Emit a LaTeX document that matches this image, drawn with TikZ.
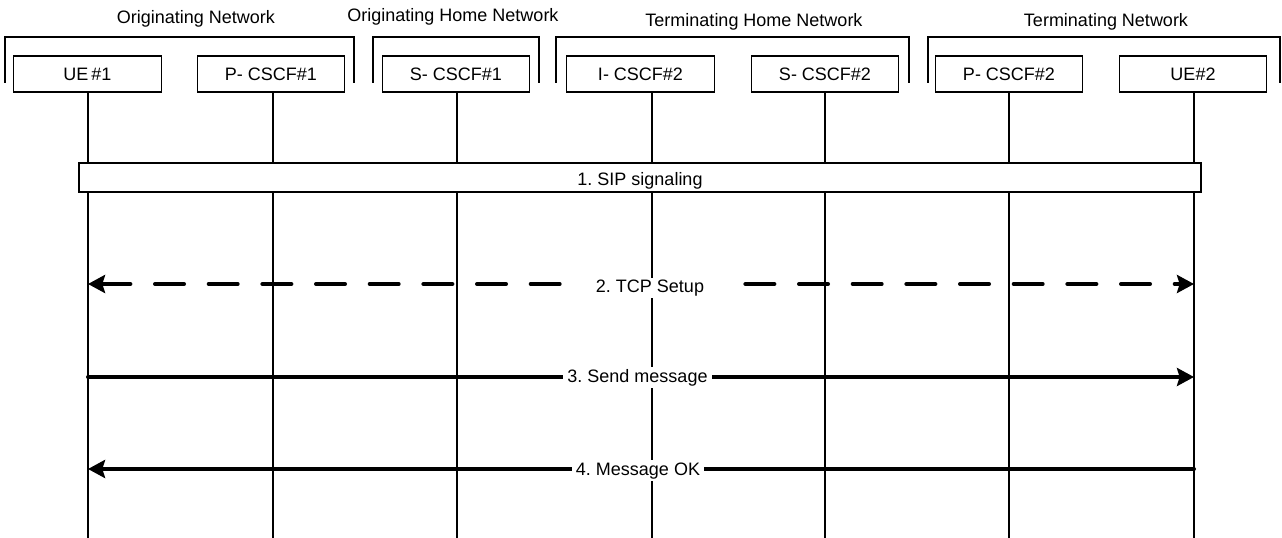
\documentclass[tikz,border=0pt]{standalone}
\usepackage{fontspec}
\setmainfont{Liberation Sans}
\usetikzlibrary{arrows.meta}
\frenchspacing
\begin{document}
\begin{tikzpicture}[x=0.75pt,y=-0.75pt,
  font=\fontsize{13.5}{16}\selectfont,
  entity/.style={draw, line width=1pt, fill=white, minimum width=110.6pt,
    minimum height=27pt, inner sep=0pt},
  netframe/.style={line width=1pt},
  lifeline/.style={line width=1pt},
  hdr/.style={anchor=base, inner sep=0pt},
  msgtip/.tip={Stealth[length=12.75pt, width=13.5pt, inset=2pt]},
  msg/.style={line width=3pt, line cap=round, -msgtip},
  tcp/.style={line width=3pt, line cap=round,
    dash pattern=on 21.75pt off 18.5pt, msgtip-msgtip},
  lbl/.style={anchor=base, fill=white, inner xsep=3pt, inner ysep=1.5pt},
  sipbox/.style={draw, line width=1pt, fill=white, minimum width=841.5pt,
    minimum height=21.75pt, inner sep=0pt}
]
% canvas
\useasboundingbox (0,0) rectangle (1282,538);

% network domains
\draw[netframe] (5,83) -- (5,37) -- (354,37) -- (354,83);
\draw[netframe] (373,83) -- (373,37) -- (539,37) -- (539,83);
\draw[netframe] (556,83) -- (556,37) -- (909,37) -- (909,83);
\draw[netframe] (928,83) -- (928,37) -- (1280,37) -- (1280,83);
\node[hdr] (hon) at (196,24) {Originating Network};
\node[hdr] (hohn) at (453,21.7) {Originating Home Network};
\node[hdr] (hthn) at (754,27) {Terminating Home Network};
\node[hdr] (htn) at (1106,26.7) {Terminating Network};

% entities
\node[entity] (ue1) at (87.5,74) {UE\,\#1};
\node[entity] (pc1) at (271,74) {P- CSCF\#1};
\node[entity] (sc1) at (456,74) {S- CSCF\#1};
\node[entity] (ic2) at (640.5,74) {I- CSCF\#2};
\node[entity] (sc2) at (825,74) {S- CSCF\#2};
\node[entity] (pc2) at (1009,74) {P- CSCF\#2};
\node[entity] (ue2) at (1193,74) {UE\#2};

% lifeline ends
\coordinate (ue1e) at (88,538);
\coordinate (pc1e) at (273,538);
\coordinate (sc1e) at (457,538);
\coordinate (ic2e) at (652,538);
\coordinate (sc2e) at (825,538);
\coordinate (pc2e) at (1009,538);
\coordinate (ue2e) at (1194,538);

\foreach \n in {ue1,pc1,sc1,ic2,sc2,pc2,ue2}
  \draw[lifeline] (\n e |- \n.south) -- (\n e);

% message rows
\coordinate (row2) at (0,284);
\coordinate (row3) at (0,377);
\coordinate (row4) at (0,469);

% 1. SIP signaling
\node[sipbox] (sip) at (640,177.5) {};
\node[anchor=base, inner sep=0pt] (siplbl) at (640,186) {1. SIP signaling};

% 2. TCP setup
\draw[tcp] (ue1e |- row2) -- (ue2e |- row2);
\node[lbl, inner xsep=25pt] (l2) at (650,292.5) {2. TCP Setup};

% 3. Send message
\draw[msg] (ue1e |- row3) -- (ue2e |- row3);
\node[lbl] (l3) at (637.5,382.5) {3. Send message};

% 4. Message OK
\draw[msg] (ue2e |- row4) -- (ue1e |- row4);
\node[lbl] (l4) at (638,475) {4. Message OK};
\end{tikzpicture}
\end{document}
